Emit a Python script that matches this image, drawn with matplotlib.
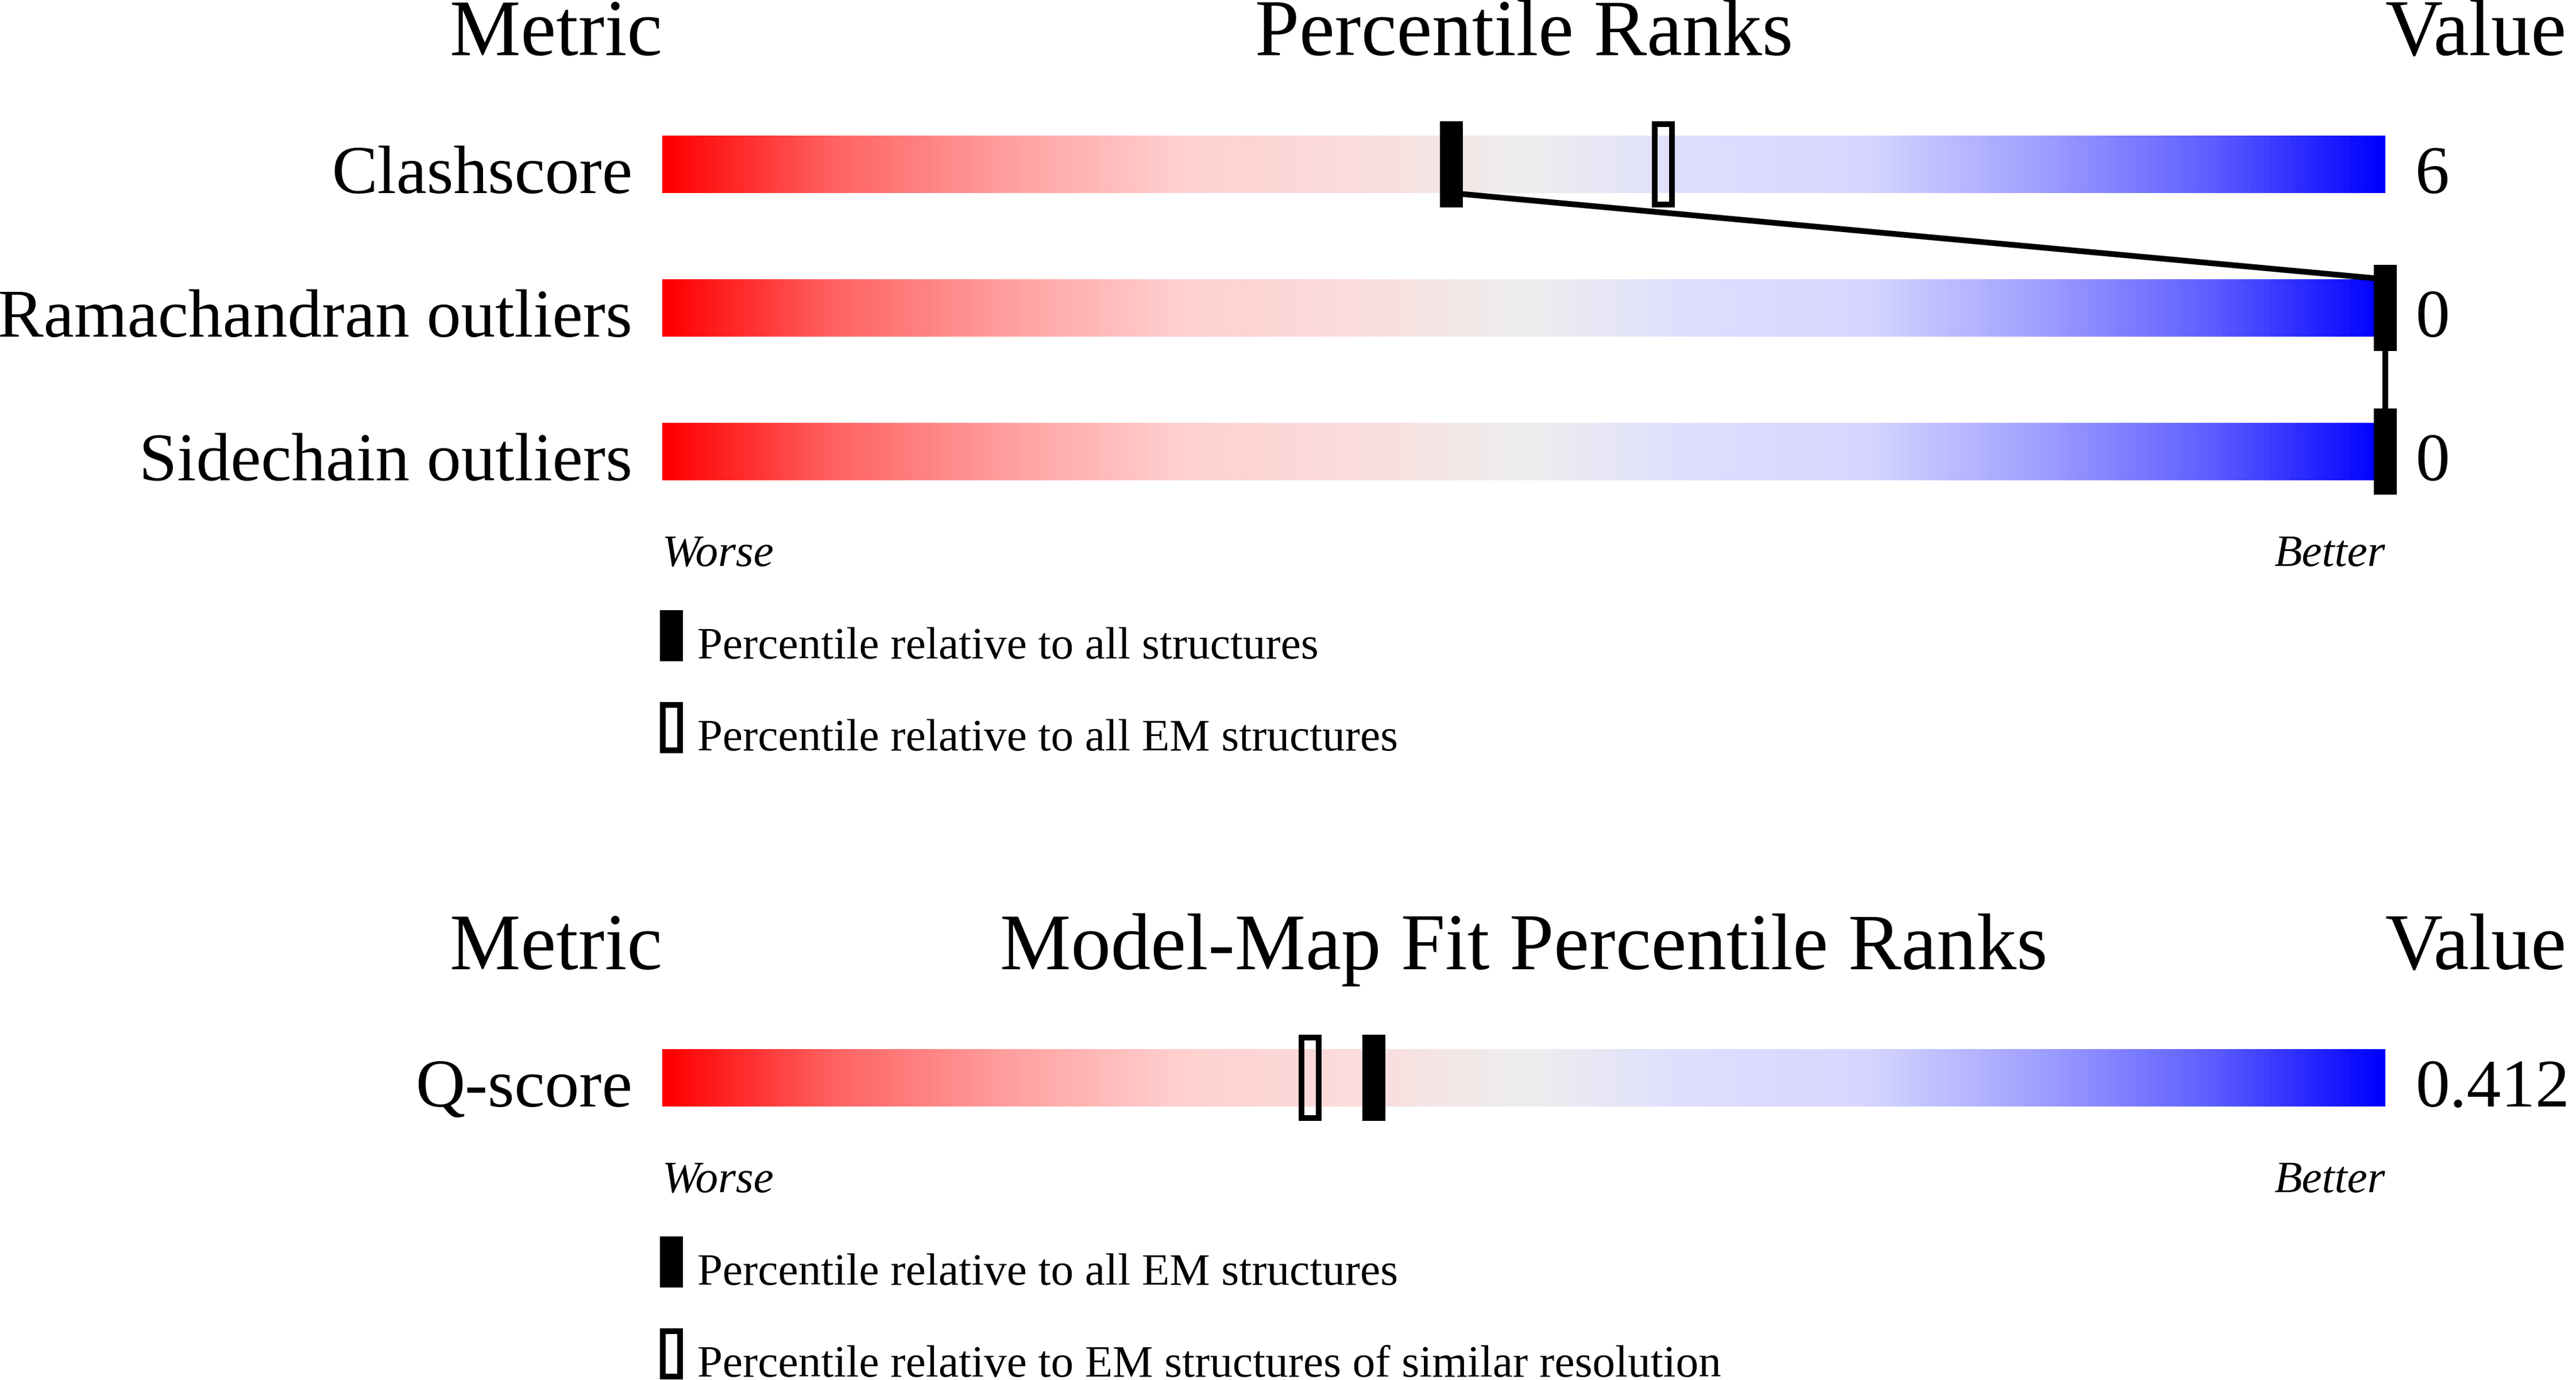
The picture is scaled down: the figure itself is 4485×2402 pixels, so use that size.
import numpy as np
import matplotlib
matplotlib.use("Agg")
import matplotlib.pyplot as plt
from matplotlib.colors import LinearSegmentedColormap
from matplotlib.patches import Rectangle

# Data
metrics = ["Clashscore", "Ramachandran outliers", "Sidechain outliers"]
metric_values = ["6", "0", "0"]
pct_all = [45.8, 100, 100]          # filled markers
pct_em = [58.1, None, None]         # open markers

fit_metrics = ["Q-score"]
fit_values = ["0.412"]
fit_pct_em = [41.3]                 # filled markers
fit_pct_res = [37.6]                # open markers

legend1 = ["Percentile relative to all structures",
           "Percentile relative to all EM structures"]
legend2 = ["Percentile relative to all EM structures",
           "Percentile relative to EM structures of similar resolution"]

plt.rcParams["font.family"] = ["Liberation Serif", "DejaVu Serif"]

# slider colours, red (worse) -> grey -> blue (better)
stops = [(0.0, (255, 0, 0)), (0.1, (255, 100, 100)), (0.2, (255, 160, 160)),
         (0.3, (255, 208, 208)), (0.4, (252, 220, 220)), (0.5, (238, 238, 238)),
         (0.6, (222, 222, 255)), (0.7, (214, 214, 255)), (0.8, (160, 160, 255)),
         (0.9, (95, 95, 255)), (1.0, (0, 0, 255))]
cmap = LinearSegmentedColormap.from_list(
    "slider", [(s, tuple(c / 255 for c in rgb)) for s, rgb in stops])
grad = np.linspace(0, 1, 600).reshape(1, -1)

W, H = 4485, 2402
fig = plt.figure(figsize=(W / 100, H / 100), dpi=100)
ax = fig.add_axes([0, 0, 1, 1])
# percentile 0..100 spans the bar, 30 px per percentile
px = 30.0
bar_left = 1153
ax.set_xlim(-bar_left / px, (W - bar_left) / px)
ax.set_ylim(H, 0)
ax.axis("off")

bar_h = 100
mk_w = 40 / px
mk_h = 150
lw_line = 10 * 0.72
lw_box = 10 * 0.72
lab_dx = 52 / px

HEAD = 100
LAB = 86
SMALL = 57


def filled(x, yc):
    ax.add_patch(Rectangle((x - mk_w / 2, yc - mk_h / 2), mk_w, mk_h,
                           facecolor="black", edgecolor="none", zorder=5, clip_on=False))


def hollow(x, yc, h=mk_h):
    inset_x = 5 / px
    ax.add_patch(Rectangle((x - mk_w / 2 + inset_x, yc - h / 2 + 5), mk_w - 2 * inset_x, h - 10,
                           facecolor="none", edgecolor="black", linewidth=lw_box,
                           joinstyle="miter", zorder=5, clip_on=False))


def panel(title, y_head, names, vals, rows_y, solid, opn, y_worse, y_leg, leg_texts, join):
    ax.text(0, y_head, "Metric", ha="right", va="baseline", fontsize=HEAD)
    ax.text(50, y_head, title, ha="center", va="baseline", fontsize=HEAD)
    ax.text(100, y_head, "Value", ha="left", va="baseline", fontsize=HEAD)
    for name, val, yc in zip(names, vals, rows_y):
        ax.imshow(grad, cmap=cmap, aspect="auto", interpolation="bilinear",
                  extent=(0, 100, yc + bar_h / 2, yc - bar_h / 2), zorder=1)
        ax.text(-lab_dx, yc + bar_h / 2, name, ha="right", va="baseline", fontsize=LAB)
        ax.text(100 + lab_dx, yc + bar_h / 2, val, ha="left", va="baseline", fontsize=LAB)
    for p, yc in zip(opn, rows_y):
        if p is not None:
            hollow(p, yc)
    for p, yc in zip(solid, rows_y):
        if p is not None:
            filled(p, yc)
    if join:
        for i in range(len(rows_y) - 1):
            y0 = rows_y[i] + bar_h / 2
            y1 = rows_y[i + 1] - bar_h / 2
            ax.plot([solid[i], solid[i + 1]], [y0, y1], color="black",
                    linewidth=lw_line, solid_capstyle="butt", zorder=4, clip_on=False)
    ax.text(0, y_worse, "Worse", ha="left", va="baseline", fontsize=SMALL, style="italic")
    ax.text(100, y_worse, "Better", ha="right", va="baseline", fontsize=SMALL, style="italic")
    # legend
    lx = -4 / px
    for k, (txt, ly) in enumerate(zip(leg_texts, y_leg)):
        if k == 0:
            ax.add_patch(Rectangle((lx, ly), mk_w, 89, facecolor="black",
                                   edgecolor="none", clip_on=False))
        else:
            ax.add_patch(Rectangle((lx + 5 / px, ly + 5), mk_w - 10 / px, 79,
                                   facecolor="none", edgecolor="black",
                                   linewidth=lw_box, joinstyle="miter", clip_on=False))
        ax.text(lx + 65 / px, ly + 84, txt, ha="left", va="baseline", fontsize=SMALL)


panel("Percentile Ranks", 96, metrics, metric_values, [286, 536, 786],
      pct_all, pct_em, 985, [1062, 1222], legend1, True)
panel("Model-Map Fit Percentile Ranks", 1687, fit_metrics, fit_values, [1876],
      fit_pct_em, fit_pct_res, 2075, [2152, 2312], legend2, False)

fig.savefig("out.png", dpi=100, facecolor="white")
